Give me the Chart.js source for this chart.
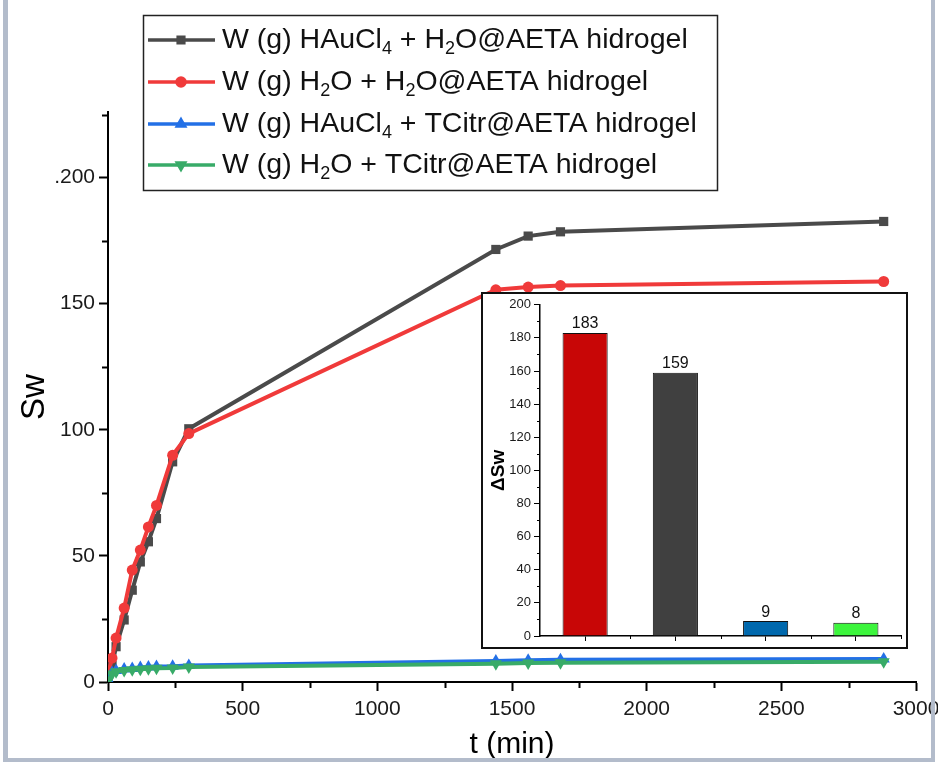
<!DOCTYPE html>
<html>
<head>
<meta charset="utf-8">
<script src="https://cdn.jsdelivr.net/npm/chart.js@4.4.0/dist/chart.umd.min.js"></script>
<style>
  html, body { margin: 0; padding: 0; background: #fff; }
  #wrap { position: relative; width: 938px; height: 765px; }
  #frame {
    position: absolute; left: 3px; top: 0; width: 932px; height: 762px;
    border-left: 5px solid #b3bccb; border-right: 4px solid #b3bccb; border-bottom: 4px solid #b3bccb;
    box-sizing: border-box; pointer-events: none;
  }
  #insetBox {
    position: absolute; left: 481px; top: 292px; width: 427px; height: 357px;
    border: 2px solid #111; box-sizing: border-box; background: #fff;
  }
</style>
</head>
<body>
<div id="wrap">
  <canvas id="mainChart" width="938" height="765"></canvas>
  <div id="insetBox"><canvas id="insetChart" width="423" height="353"></canvas></div>
  <div id="frame"></div>
</div>
<script>
// swelling time points (min)
const times = [0, 15, 30, 60, 90, 120, 150, 180, 240, 300, 1440, 1560, 1680, 2880];

// Sw for each hydrogel / medium
const swHAuCl4H2O = [2, 6.5, 14, 24.6, 36.4, 47.6, 55.6, 64.8, 87.3, 100.4, 171.5, 176.8, 178.5, 182.6];
const swH2OH2O = [3, 9.5, 17.4, 29.3, 44.4, 52.3, 61.5, 70, 89.9, 98.5, 155.5, 156.6, 157.2, 158.8];
const swHAuCl4TCitr = [1, 3.8, 4.6, 5.2, 5.4, 5.7, 5.9, 6.1, 6.2, 6.5, 8.3, 8.6, 8.8, 9.1];
const swH2OTCitr = [0.5, 3.2, 4.1, 4.6, 4.9, 5.1, 5.3, 5.5, 5.6, 5.9, 7.2, 7.5, 7.6, 8.0];

const seriesLabels = [
  'W (g) HAuCl4 + H2O@AETA hidrogel',
  'W (g) H2O + H2O@AETA hidrogel',
  'W (g) HAuCl4 + TCitr@AETA hidrogel',
  'W (g) H2O + TCitr@AETA hidrogel'
];

// inset: total change in Sw
const deltaSwGroups = ['HAuCl4 + H2O', 'H2O + H2O', 'HAuCl4 + TCitr', 'H2O + TCitr'];
const deltaSw = [183, 159, 9, 8];

const yTicksMain = [0, 50, 100, 150, 200];
const yMinorMain = [25, 75, 125, 175, 225];
const xMinorMain = [250, 750, 1250, 1750, 2250, 2750];

const FONT = '"Liberation Sans", Arial, sans-serif';

function points(vals) {
  return times.map((t, i) => ({ x: t, y: vals[i] }));
}

// short outside ticks drawn from the scales
const minorTicks = {
  id: 'minorTicks',
  afterDraw(chart, args, opts) {
    const ctx = chart.ctx;
    const xs = chart.scales.x, ys = chart.scales.y;
    const a = chart.chartArea;
    ctx.save();
    ctx.strokeStyle = '#000';
    ctx.lineWidth = opts.width || 1.5;
    ctx.beginPath();
    (opts.y || []).forEach(v => {
      const py = Math.round(ys.getPixelForValue(v)) + 0.5;
      ctx.moveTo(a.left - opts.yLen, py);
      ctx.lineTo(a.left, py);
    });
    (opts.x || []).forEach(v => {
      const px = Math.round(xs.getPixelForValue(v)) + 0.5;
      ctx.moveTo(px, a.bottom);
      ctx.lineTo(px, a.bottom + opts.xLen);
    });
    ctx.stroke();
    ctx.restore();
  }
};

// legend with subscripted formulas
const formulaLegend = {
  id: 'formulaLegend',
  afterDraw(chart, args, opts) {
    const ctx = chart.ctx;
    const box = opts.box;
    ctx.save();
    ctx.fillStyle = '#fff';
    ctx.fillRect(box.x, box.y, box.w, box.h);
    ctx.strokeStyle = '#222';
    ctx.lineWidth = 1.5;
    ctx.strokeRect(box.x + 0.5, box.y + 0.5, box.w, box.h);
    chart.data.datasets.forEach((ds, i) => {
      const y = opts.rowY[i];
      ctx.strokeStyle = ds.borderColor;
      ctx.fillStyle = ds.borderColor;
      ctx.lineWidth = 3.5;
      ctx.beginPath();
      ctx.moveTo(box.x + 5, y);
      ctx.lineTo(box.x + 72, y);
      ctx.stroke();
      Chart.helpers.drawPoint(ctx, {
        pointStyle: ds.pointStyle, rotation: ds.pointRotation || 0, radius: 4, borderWidth: 1
      }, box.x + 38, y);
      // split the label into normal and subscript parts
      const parts = ds.label.split(/(?<=[A-Za-z])(\d)/);
      let x = box.x + 79;
      ctx.fillStyle = '#111';
      ctx.textBaseline = 'middle';
      ctx.textAlign = 'left';
      parts.forEach((p, k) => {
        if (!p) return;
        const sub = k % 2 === 1;
        ctx.font = (sub ? '18px ' : '28.5px ') + FONT;
        ctx.fillText(p, x, sub ? y + 9 : y);
        x += ctx.measureText(p).width;
      });
    });
    ctx.restore();
  }
};

const mainChart = new Chart(document.getElementById('mainChart'), {
  type: 'line',
  data: {
    datasets: [
      { label: seriesLabels[0], data: points(swHAuCl4H2O), borderColor: '#4a4a4a', backgroundColor: '#4a4a4a',
        pointStyle: 'rect', pointRadius: 6.5, order: 3 },
      { label: seriesLabels[1], data: points(swH2OH2O), borderColor: '#f03a3a', backgroundColor: '#f03a3a',
        pointStyle: 'circle', pointRadius: 5.5, order: 2 },
      { label: seriesLabels[2], data: points(swHAuCl4TCitr), borderColor: '#2370e6', backgroundColor: '#2370e6',
        pointStyle: 'triangle', pointRadius: 7, order: 1 },
      { label: seriesLabels[3], data: points(swH2OTCitr), borderColor: '#38ab68', backgroundColor: '#38ab68',
        pointStyle: 'triangle', pointRotation: 180, rotation: 180, pointRadius: 7, order: 0 }
    ]
  },
  options: {
    responsive: false,
    animation: false,
    events: [],
    elements: { line: { borderWidth: 4, tension: 0 }, point: { borderWidth: 0 } },
    layout: { padding: { top: 112, right: 22, left: 10, bottom: 0 } },
    plugins: {
      legend: { display: false },
      tooltip: { enabled: false },
      minorTicks: { y: yMinorMain, x: xMinorMain, yLen: 6, xLen: 6, width: 2 },
      formulaLegend: { box: { x: 143, y: 15, w: 574, h: 175 }, rowY: [40, 82, 124, 165] }
    },
    scales: {
      x: {
        type: 'linear', min: 0, max: 3000,
        ticks: {
          stepSize: 500, color: '#1a1a1a', font: { family: FONT, size: 21 }, padding: 6, maxRotation: 0,
          callback: v => String(v)
        },
        grid: { drawOnChartArea: false, tickLength: 9, tickWidth: 2, tickColor: '#000' },
        border: { color: '#000', width: 2 },
        title: { display: true, text: 't (min)', color: '#000', font: { family: FONT, size: 30 }, padding: { bottom: 2 } },
        afterFit: s => { s.height = 83; s.paddingRight = 0; s.paddingLeft = 0; }
      },
      y: {
        min: 0, max: 226,
        afterBuildTicks: s => { s.ticks = yTicksMain.map(v => ({ value: v })); },
        ticks: {
          color: '#1a1a1a', font: { family: FONT, size: 21 }, padding: 4,
          callback: v => (v === 200 ? '.200' : String(v))
        },
        grid: { drawOnChartArea: false, tickLength: 9, tickWidth: 2, tickColor: '#000' },
        border: { color: '#000', width: 2 },
        title: { display: true, text: 'Sw', color: '#000', font: { family: FONT, size: 33 }, padding: { top: 5 } },
        afterFit: s => { s.width = 98; s.paddingTop = 0; s.paddingBottom = 0; }
      }
    }
  },
  plugins: [minorTicks, formulaLegend]
});

// value written above each bar
const barValueLabels = {
  id: 'barValueLabels',
  afterDatasetsDraw(chart) {
    const ctx = chart.ctx;
    const meta = chart.getDatasetMeta(0);
    ctx.save();
    ctx.fillStyle = '#111';
    ctx.font = '16px ' + FONT;
    ctx.textAlign = 'center';
    ctx.textBaseline = 'bottom';
    meta.data.forEach((bar, i) => {
      ctx.fillText(String(chart.data.datasets[0].data[i]), bar.x, bar.y - 1);
    });
    ctx.restore();
  }
};

const insetChart = new Chart(document.getElementById('insetChart'), {
  type: 'bar',
  data: {
    labels: deltaSwGroups,
    datasets: [{
      data: deltaSw,
      backgroundColor: ['#c80606', '#404040', '#0068ad', '#3cf53c'],
      borderColor: '#111',
      borderWidth: 1,
      barPercentage: 0.5,
      categoryPercentage: 1
    }]
  },
  options: {
    responsive: false,
    animation: false,
    events: [],
    layout: { padding: { top: 9, right: 5, left: 0, bottom: 0 } },
    plugins: {
      legend: { display: false },
      tooltip: { enabled: false },
      minorTicks: { y: [10, 30, 50, 70, 90, 110, 130, 150, 170, 190], x: [0.5, 1.5, 2.5, 3.5], yLen: 3, xLen: 3, width: 1 }
    },
    scales: {
      x: {
        ticks: { display: false },
        grid: { drawOnChartArea: false, offset: false, tickLength: 5, tickWidth: 1, tickColor: '#000' },
        border: { color: '#000', width: 1.5 },
        afterFit: s => { s.height = 11; }
      },
      y: {
        min: 0, max: 200,
        ticks: { stepSize: 20, color: '#1a1a1a', font: { family: FONT, size: 13 }, padding: 3 },
        grid: { drawOnChartArea: false, tickLength: 6, tickWidth: 1, tickColor: '#000' },
        border: { color: '#000', width: 1.5 },
        title: { display: true, text: 'ΔSw', color: '#000', font: { family: FONT, size: 19, weight: 'bold' }, padding: { top: 4 } },
        afterFit: s => { s.width = 57; }
      }
    }
  },
  plugins: [minorTicks, barValueLabels]
});
</script>
</body>
</html>
